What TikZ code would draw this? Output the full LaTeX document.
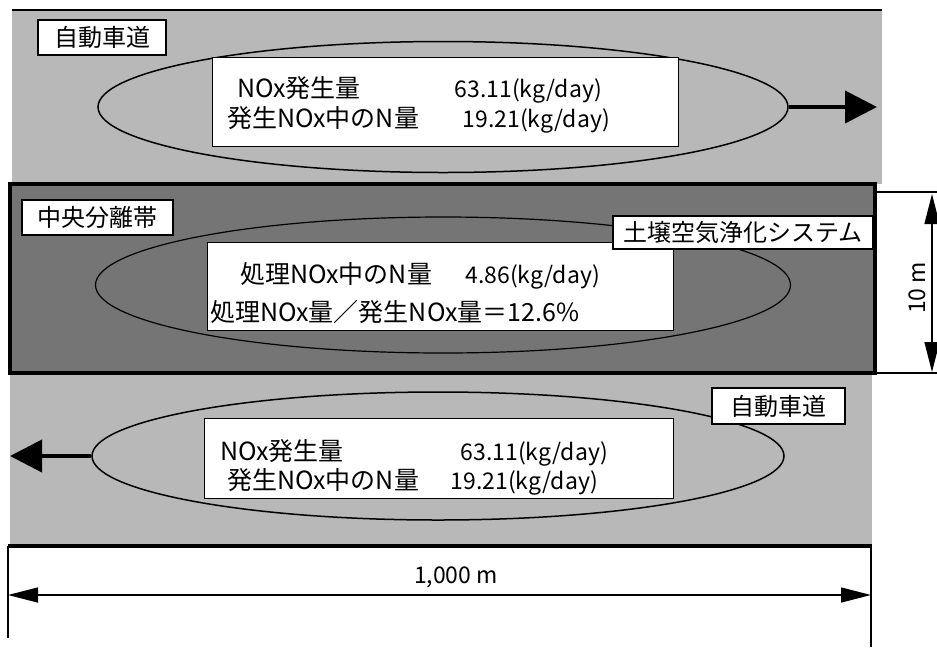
\documentclass[tikz,border=0pt]{standalone}
\usepackage{fontspec}
\setmainfont{Noto Sans CJK JP}
\usetikzlibrary{arrows.meta,shapes.geometric}
\definecolor{roadgray}{gray}{0.72}
\definecolor{mediangray}{gray}{0.46}
\begin{document}
\begin{tikzpicture}[x=1pt,y=-1pt,
  lab/.style={draw=black,line width=1.3pt,fill=white,inner sep=0pt,font=\fontsize{24}{28}\selectfont},
  infobox/.style={draw=black,line width=0.6pt,fill=white,inner sep=0pt},
  txt/.style={anchor=base west,inner sep=0pt,font=\fontsize{25}{29}\selectfont},
  num/.style={anchor=base east,inner sep=0pt,font=\fontsize{23}{27}\selectfont},
  plume/.style={ellipse,draw=black,line width=1.5pt,inner sep=0pt},
  bigarrow/.style={line width=4pt,-{Triangle[length=32pt,width=32pt]}},
  dimline/.style={line width=1.4pt},
  dimarrow/.style={line width=1.4pt,{Triangle[length=30pt,width=15pt]}-{Triangle[length=30pt,width=15pt]}},
  dimtext/.style={inner sep=0pt,font=\fontsize{23}{27}\selectfont},
]
\useasboundingbox (0,0) rectangle (937,649);
% bands
\fill[roadgray] (12,10) rectangle (882,184);
\draw[line width=2pt] (12,10) -- (882,10);
\fill[roadgray] (10,373) rectangle (872,546);
\draw[line width=3.5pt] (8,546) -- (872,546);
\draw[line width=4pt,fill=mediangray] (10,184) rectangle (875,373);
% plumes
\node[plume,minimum width=690pt,minimum height=131pt] (plumeTop) at (443,107) {};
\node[plume,line width=1.2pt,minimum width=695pt,minimum height=136pt] (plumeMid) at (443,285) {};
\node[plume,minimum width=692pt,minimum height=128pt] (plumeBot) at (438,456) {};
\coordinate (tipTop) at (877,107);
\coordinate (tipBot) at (10,456);
\draw[bigarrow] (plumeTop.east) -- (tipTop);
\draw[bigarrow] (plumeBot.west) -- (tipBot);
% info boxes
\node[infobox,minimum width=466pt,minimum height=89pt] (boxTop) at (445,101.5) {};
\node[infobox,minimum width=466pt,minimum height=88pt] (boxMid) at (440,286) {};
\node[infobox,minimum width=469pt,minimum height=80pt] (boxBot) at (438.5,458) {};
\node[txt] (t1a) at (237,97.5) {NOx発生量};
\node[num] (t1b) at (602,97.5) {63.11(kg/day)};
\node[txt] (t2a) at (227,127.5) {発生NOx中のN量};
\node[num] (t2b) at (610,127.5) {19.21(kg/day)};
\node[txt] (m1a) at (240,283) {処理NOx中のN量};
\node[num] (m1b) at (600,283) {4.86(kg/day)};
\node[txt] (m2) at (210,321) {処理NOx量／発生NOx量＝12.6\%};
\node[txt] (b1a) at (220,460) {NOx発生量};
\node[num] (b1b) at (608,460) {63.11(kg/day)};
\node[txt] (b2a) at (227,489) {発生NOx中のN量};
\node[num] (b2b) at (598,489) {19.21(kg/day)};
% labels
\node[lab,minimum width=128pt,minimum height=35pt] (labTopRoad) at (102,37.5) {自動車道};
\node[lab,minimum width=151pt,minimum height=35pt] (labMedian) at (97.5,217.5) {中央分離帯};
\node[lab,minimum width=260pt,minimum height=33pt] (labSystem) at (743,232.5) {土壌空気浄化システム};
\node[lab,minimum width=133pt,minimum height=36pt] (labBotRoad) at (778.5,406) {自動車道};
% 10 m dimension
\draw[dimline] (875,192) -- (937,192);
\draw[dimline] (875,373) -- (937,373);
\coordinate (vTop) at (932,194);
\coordinate (vBot) at (932,372);
\draw[dimarrow] (vTop) -- (vBot);
\node[dimtext,rotate=90] (tenm) at (917,288) {10 m};
% 1000 m dimension
\coordinate (hL0) at (8,546);
\coordinate (hL1) at (8,638);
\coordinate (hR0) at (871,546);
\coordinate (hR1) at (871,647);
\draw[dimline] (hL0) -- (hL1);
\draw[dimline] (hR0) -- (hR1);
\coordinate (hA) at (8,595);
\coordinate (hB) at (871,595);
\draw[dimarrow] (hA) -- (hB);
\node[dimtext] (km) at (456,577) {1,000 m};
\end{tikzpicture}
\end{document}
